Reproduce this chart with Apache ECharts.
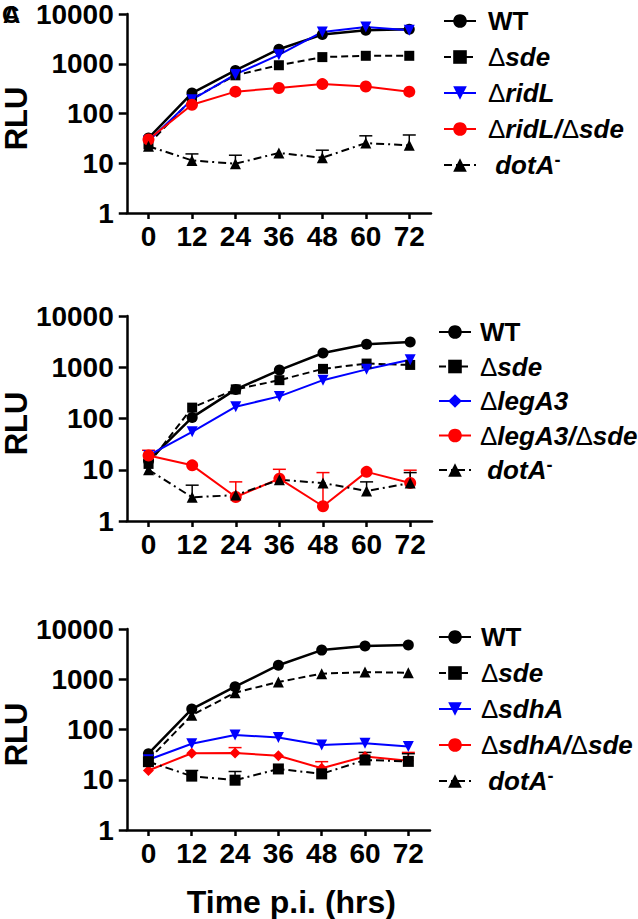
<!DOCTYPE html>
<html><head><meta charset="utf-8">
<script src="https://cdn.jsdelivr.net/npm/echarts@6/dist/echarts.min.js"></script>
<style>html,body{margin:0;padding:0;background:#fff}#c{width:638px;height:919px}</style>
</head><body><div id="c"></div>
<script>
// ---- data ----
const timePoints = ['0', '12', '24', '36', '48', '60', '72'];
const yTickLabels = ['1', '10', '100', '1000', '10000'];

// Panel A
const a_WT      = [32, 258, 734, 1960, 3860, 4700, 4950];
const a_sde     = [24, 197, 585, 933, 1360, 1445, 1445];
const a_ridL    = [28, 190, 610, 1510, 4350, 5450, 4700];
const a_ridLsde = [30, 150, 275, 325, 390, 350, 275];
const a_dotA    = [22, 11.4, 9.8, 16.1, 12.9, 25.4, 22.9];
const a_dotAErr = [null, 15.4, 14.5, null, 18.3, 35.6, 37];

// Panel B
const b_WT        = [15, 105, 370, 880, 1900, 2800, 3100];
const b_sde       = [13, 163, 370, 560, 930, 1180, 1110];
const b_legA3     = [19, 55, 170, 270, 560, 910, 1400];
const b_legA3sde  = [19, 12.2, 2.94, 6.7, 1.94, 9.1, 5.5];
const b_legA3sdeErr = [24, null, 5.8, 10.2, 8.8, null, 9.8];
const b_dotA      = [10, 2.9, 3.2, 6.4, 5.5, 3.86, 5.5];
const b_dotAErr   = [null, 5.0, null, null, null, 5.8, 8.8];

// Panel C
const c_WT        = [33, 255, 710, 1900, 3800, 4600, 4800];
const c_sde       = [25, 192, 540, 884, 1290, 1390, 1345];
const c_sdhA      = [25, 52, 78, 69, 49, 53, 46];
const c_sdhAsde   = [15.3, 33.7, 34, 30, 17, 29, 24];
const c_sdhAsdeErr = [null, null, 43.6, null, 22.9, null, 35];
const c_dotA      = [22.9, 11.8, 9.8, 16.4, 13.1, 24.7, 23.2];
const c_dotAErr   = [null, 15.3, 14.6, null, null, 35, 33];

// legend labels (rich text)
const legendLabels = {
  'A WT': '{b|WT}', 'A sde': '{d|Δ}{i|sde}', 'A ridL': '{d|Δ}{i|ridL}',
  'A ridL/sde': '{d|Δ}{i|ridL/}{d|Δ}{i|sde}', 'A dotA': '{i| dotA}{sup|-}',
  'B WT': '{b|WT}', 'B sde': '{d|Δ}{i|sde}', 'B legA3': '{d|Δ}{i|legA3}',
  'B legA3/sde': '{d|Δ}{i|legA3/}{d|Δ}{i|sde}', 'B dotA': '{i| dotA}{sup|-}',
  'C WT': '{b|WT}', 'C sde': '{d|Δ}{i|sde}', 'C sdhA': '{d|Δ}{i|sdhA}',
  'C sdhA/sde': '{d|Δ}{i|sdhA/}{d|Δ}{i|sde}', 'C dotA': '{i| dotA}{sup|-}'
};

// ---- styling ----
const FF = "'Liberation Sans', Arial, sans-serif";
const BLACK = '#000000', BLUE = '#0000ff', RED = '#ff0000';
const DASH = [7, 4];
const DASHDOT = [8, 4, 2, 4];

function lineSeries(gi, name, data, o) {
  return {
    type: 'line', name, xAxisIndex: gi, yAxisIndex: gi,
    data: data.map(v => o.pointSymbol ? { value: v, symbol: o.pointSymbol, symbolRotate: o.pointRotate || 0, symbolSize: o.pointSize || o.size || 11 } : v),
    symbol: o.symbol, symbolSize: o.size || 11, symbolRotate: o.rotate || 0,
    showAllSymbol: true,
    lineStyle: { color: o.color, width: o.width || 2, type: o.dash || 'solid' },
    itemStyle: { color: o.color },
    z: o.z || 3, animation: false
  };
}
function errSeries(gi, vals, errs, color) {
  const d = [];
  errs.forEach((e, i) => { if (e != null) d.push([i, vals[i], e]); });
  return {
    type: 'custom', xAxisIndex: gi, yAxisIndex: gi, data: d, z: 2, silent: true, animation: false,
    encode: { x: 0, y: [1, 2] },
    renderItem(params, api) {
      const x = api.value(0);
      const p0 = api.coord([x, api.value(1)]);
      const p1 = api.coord([x, api.value(2)]);
      const hw = 6.5;
      return { type: 'group', children: [
        { type: 'line', shape: { x1: p0[0], y1: p0[1], x2: p1[0], y2: p1[1] }, style: { stroke: color, lineWidth: 1.5 } },
        { type: 'line', shape: { x1: p1[0] - hw, y1: p1[1], x2: p1[0] + hw, y2: p1[1] }, style: { stroke: color, lineWidth: 1.5 } }
      ]};
    }
  };
}

const grids = [
  { left: 125, top: 10, width: 306, height: 203 },
  { left: 124, top: 316, width: 308, height: 205 },
  { left: 123, top: 629, width: 307, height: 205 }
];
const axisLineStyle = { color: BLACK, width: 2.5 };
const xAxes = grids.map((g, i) => ({
  type: 'category', gridIndex: i, data: timePoints, boundaryGap: true,
  axisLine: { show: true, lineStyle: axisLineStyle },
  axisTick: { show: true, alignWithLabel: true, length: 6, lineStyle: axisLineStyle },
  axisLabel: { color: BLACK, fontSize: 28, fontWeight: 'bold', fontFamily: FF, margin: 9 },
  splitLine: { show: false },
  name: i === 2 ? 'Time p.i. (hrs)' : '',
  nameLocation: 'middle', nameGap: 56,
  nameTextStyle: { color: BLACK, fontSize: 32, fontWeight: 'bold', fontFamily: FF, padding: [0, 0, 0, 26] }
}));
const yAxes = grids.map((g, i) => ({
  type: 'log', logBase: 10, gridIndex: i, min: 1, max: 10000,
  axisLine: { show: true, lineStyle: axisLineStyle },
  axisTick: { show: true, length: 8, lineStyle: axisLineStyle },
  axisLabel: { color: BLACK, fontSize: 28, fontWeight: 'bold', fontFamily: FF, margin: 13,
    formatter: v => yTickLabels[Math.round(Math.log10(v))] },
  splitLine: { show: false }, minorTick: { show: false },
  name: 'RLU', nameLocation: 'middle', nameGap: 88,
  nameTextStyle: { color: BLACK, fontSize: 31, fontWeight: 'bold', fontFamily: FF, padding: [0, 10, 0, 0] }
}));

const rich = {
  b: { fontSize: 26, fontWeight: 'bold', fontFamily: FF, color: BLACK, lineHeight: 28 },
  d: { fontSize: 26, fontWeight: 'normal', fontFamily: FF, color: BLACK, lineHeight: 28 },
  i: { fontSize: 26, fontWeight: 'bold', fontStyle: 'italic', fontFamily: FF, color: BLACK, lineHeight: 28 },
  sup: { fontSize: 18, fontWeight: 'bold', fontFamily: FF, color: BLACK, lineHeight: 12, verticalAlign: 'top' }
};
function legend(names, left, top, gap, pad) {
  return {
    orient: 'vertical', left, top, itemGap: gap, itemWidth: 32, itemHeight: 17,
    selectedMode: false, data: names,
    formatter: n => legendLabels[n],
    textStyle: { rich, fontSize: 26, lineHeight: 28, padding: [0, 0, 0, pad] }
  };
}

const series = [
  // Panel A
  errSeries(0, a_dotA, a_dotAErr, BLACK),
  lineSeries(0, 'A WT', a_WT, { symbol: 'circle', color: BLACK, width: 2.5 }),
  lineSeries(0, 'A sde', a_sde, { symbol: 'rect', color: BLACK, dash: DASH, size: 10 }),
  lineSeries(0, 'A ridL', a_ridL, { symbol: 'triangle', rotate: 180, color: BLUE }),
  lineSeries(0, 'A ridL/sde', a_ridLsde, { symbol: 'circle', color: RED, size: 12 }),
  lineSeries(0, 'A dotA', a_dotA, { symbol: 'triangle', color: BLACK, dash: DASHDOT }),
  // Panel B
  errSeries(1, b_legA3sde, b_legA3sdeErr, RED),
  errSeries(1, b_dotA, b_dotAErr, BLACK),
  lineSeries(1, 'B WT', b_WT, { symbol: 'circle', color: BLACK, width: 2.5 }),
  lineSeries(1, 'B sde', b_sde, { symbol: 'rect', color: BLACK, dash: DASH, size: 10 }),
  lineSeries(1, 'B legA3', b_legA3, { symbol: 'diamond', pointSymbol: 'triangle', pointRotate: 180, color: BLUE }),
  lineSeries(1, 'B legA3/sde', b_legA3sde, { symbol: 'circle', color: RED, size: 12 }),
  lineSeries(1, 'B dotA', b_dotA, { symbol: 'triangle', color: BLACK, dash: DASHDOT }),
  // Panel C
  errSeries(2, c_sdhAsde, c_sdhAsdeErr, RED),
  errSeries(2, c_dotA, c_dotAErr, BLACK),
  lineSeries(2, 'C WT', c_WT, { symbol: 'circle', color: BLACK, width: 2.5 }),
  lineSeries(2, 'C sde', c_sde, { symbol: 'rect', size: 10, pointSymbol: 'triangle', pointSize: 11, color: BLACK, dash: DASH }),
  lineSeries(2, 'C sdhA', c_sdhA, { symbol: 'triangle', rotate: 180, color: BLUE }),
  lineSeries(2, 'C sdhA/sde', c_sdhAsde, { symbol: 'circle', size: 12, pointSymbol: 'diamond', pointSize: 11, color: RED }),
  lineSeries(2, 'C dotA', c_dotA, { symbol: 'triangle', pointSymbol: 'rect', pointSize: 11, color: BLACK, dash: DASHDOT })
];

const chart = echarts.init(document.getElementById('c'), null, { renderer: 'svg', width: 638, height: 919 });
chart.setOption({
  backgroundColor: '#ffffff',
  animation: false,
  grid: grids, xAxis: xAxes, yAxis: yAxes,
  legend: [
    legend(['A WT', 'A sde', 'A ridL', 'A ridL/sde', 'A dotA'], 438, 2, 8, 7),
    legend(['B WT', 'B sde', 'B legA3', 'B legA3/sde', 'B dotA'], 433, 313, 6.5, 4),
    legend(['C WT', 'C sde', 'C sdhA', 'C sdhA/sde', 'C dotA'], 433, 618, 8, 5)
  ],
  graphic: [
    { type: 'text', left: 2, top: 2, style: { text: 'C', font: "bold 24px 'Liberation Sans', Arial", fill: BLACK } },
    { type: 'text', left: 3, top: 2, style: { text: 'A', font: "bold 24px 'Liberation Sans', Arial", fill: BLACK } }
  ],
  series
});
</script>
</body></html>
